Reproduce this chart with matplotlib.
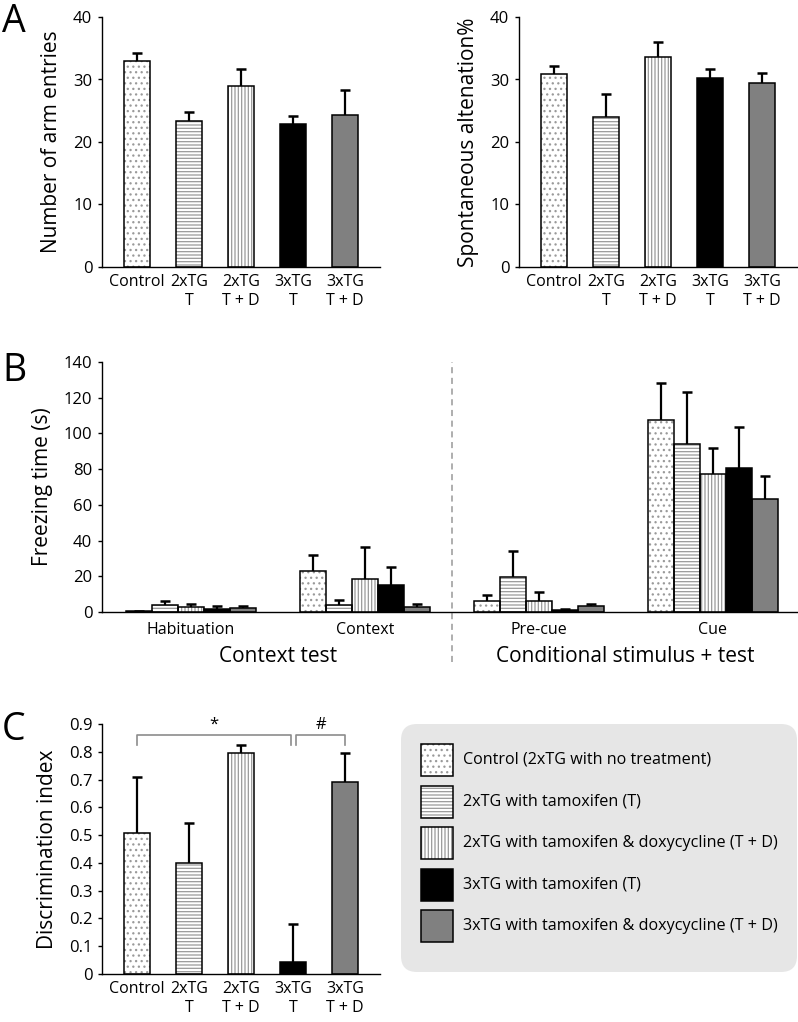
import numpy as np
import matplotlib
matplotlib.use('Agg')
import matplotlib.pyplot as plt
from matplotlib.patches import FancyBboxPatch, Rectangle
from matplotlib.ticker import FuncFormatter
import matplotlib.transforms as mtransforms

plt.rcParams['font.family'] = ['Open Sans', 'DejaVu Sans']
plt.rcParams['hatch.linewidth'] = 0.9

# groups
tick_labels = ['Control', '2xTG\nT', '2xTG\nT + D', '3xTG\nT', '3xTG\nT + D']
legend_labels = ['Control (2xTG with no treatment)',
                 '2xTG with tamoxifen (T)',
                 '2xTG with tamoxifen & doxycycline (T + D)',
                 '3xTG with tamoxifen (T)',
                 '3xTG with tamoxifen & doxycycline (T + D)']

# A: Y-maze
arm_entries = [33.0, 23.4, 29.0, 22.8, 24.3]
arm_entries_err = [1.3, 1.35, 2.6, 1.3, 4.0]
alternation = [30.9, 24.0, 33.6, 30.2, 29.4]
alternation_err = [1.3, 3.7, 2.45, 1.5, 1.6]

# B: fear conditioning, rows = phases, cols = groups
phases = ['Habituation', 'Context', 'Pre-cue', 'Cue']
freezing = [[0.3, 3.7, 2.8, 1.9, 2.3],
            [23.1, 3.7, 18.5, 15.3, 2.8],
            [6.3, 19.4, 5.9, 0.9, 3.1],
            [107.5, 94.1, 77.1, 80.4, 63.4]]
freezing_err = [[0.3, 2.2, 1.7, 1.2, 0.9],
                [9.0, 3.2, 17.7, 10.1, 1.8],
                [3.0, 14.9, 5.3, 0.9, 1.5],
                [20.7, 29.1, 14.7, 23.2, 12.5]]
test_names = ['Context test', 'Conditional stimulus + test']

# C: novel object
discrimination = [0.509, 0.401, 0.794, 0.044, 0.690]
discrimination_err = [0.199, 0.141, 0.029, 0.137, 0.104]

fills = ['white', 'white', 'white', 'black', '#808080']
hatches = ['...', '-----', '|||||', '', '']
hatch_col = '#9a9a9a'

W, H = 798, 1022
fig = plt.figure(figsize=(W / 100, H / 100), dpi=100)


def px_axes(x0, y0, x1, y1):
    return fig.add_axes([x0 / W, 1 - y1 / H, (x1 - x0) / W, (y1 - y0) / H])


def draw_bars(ax, x, vals, errs, width, idx):
    for xi, v, e, i in zip(x, vals, errs, idx):
        ax.bar(xi, v, width, color=fills[i], edgecolor=hatch_col if hatches[i] else fills[i],
               hatch=hatches[i], linewidth=0, zorder=2)
        ax.bar(xi, v, width, facecolor='none', edgecolor='black', linewidth=1.1, zorder=3)
        ax.vlines(xi, v, v + e, color='black', linewidth=1.6, zorder=4)
        ax.plot(xi, v + e, ls='none', marker='_', ms=6.5, mew=1.8, color='black', zorder=4)


def style_axes(ax):
    for s in ['top', 'right']:
        ax.spines[s].set_visible(False)
    for s in ['left', 'bottom']:
        ax.spines[s].set_linewidth(1.0)
    ax.tick_params(axis='y', direction='out', length=3, width=1, labelsize=12, pad=4)
    ax.tick_params(axis='x', length=0, labelsize=11.5, pad=5)


# ---- A ----
x = np.arange(5)
for (x0, data, err, ylab) in [(102, arm_entries, arm_entries_err, 'Number of arm entries'),
                              (519, alternation, alternation_err, 'Spontaneous altenation%')]:
    ax = px_axes(x0, 17, x0 + 278, 267)
    draw_bars(ax, x, data, err, 0.5, range(5))
    ax.set_xlim(-0.67, 4.67)
    ax.set_ylim(0, 40)
    ax.set_yticks([0, 10, 20, 30, 40])
    ax.set_xticks(x)
    ax.set_xticklabels(tick_labels, linespacing=1.25)
    ax.set_ylabel(ylab, fontsize=15, labelpad=8)
    style_axes(ax)
fig.text(2 / W, 1 - 3 / H, 'A', fontsize=27, va='top', ha='left')

# ---- B ----
axB = px_axes(102, 362, 798, 612)
gx = np.arange(len(phases))
bw = 0.149
for g in range(len(phases)):
    draw_bars(axB, gx[g] + (np.arange(5) - 2) * bw, freezing[g], freezing_err[g], bw, range(5))
axB.set_xlim(-0.51, 3.49)
axB.set_ylim(0, 140)
axB.set_yticks(np.arange(0, 141, 20))
axB.set_xticks(gx)
axB.set_xticklabels(phases)
axB.set_ylabel('Freezing time (s)', fontsize=15, labelpad=8)
style_axes(axB)
axB.tick_params(axis='x', labelsize=11.5, pad=7)
axB.axvline(1.5, ymin=-0.2, ymax=1, color='#999999', ls=(0, (4, 3)), lw=1.1, clip_on=False)
trans = mtransforms.blended_transform_factory(axB.transData, axB.transAxes)
axB.text(0.5, -0.18, test_names[0], transform=trans, ha='center', va='center', fontsize=15)
axB.text(2.5, -0.18, test_names[1], transform=trans, ha='center', va='center', fontsize=15)
fig.text(2 / W, 1 - 352 / H, 'B', fontsize=27, va='top', ha='left')

# ---- C ----
axC = px_axes(102, 724, 380, 974)
draw_bars(axC, x, discrimination, discrimination_err, 0.5, range(5))
axC.set_xlim(-0.67, 4.67)
axC.set_ylim(0, 0.9)
axC.set_yticks(np.arange(0, 0.91, 0.1))
axC.yaxis.set_major_formatter(FuncFormatter(lambda v, p: '0' if abs(v) < 1e-9 else '%.1f' % v))
axC.set_xticks(x)
axC.set_xticklabels(tick_labels, linespacing=1.25)
axC.set_ylabel('Discrimination index', fontsize=15, labelpad=8)
style_axes(axC)
# significance brackets
bc = '#8c8c8c'
for (xa, xb, sym) in [(0, 2.96, '*'), (3.06, 4.0, '#')]:
    axC.plot([xa, xa, xb, xb], [0.826, 0.862, 0.862, 0.826], color=bc, lw=1.2, clip_on=False)
    axC.text((xa + xb) / 2, 0.868, sym, ha='center', va='bottom', fontsize=12)
fig.text(2 / W, 1 - 711 / H, 'C', fontsize=27, va='top', ha='left')

# ---- legend box ----
axL = px_axes(401, 724, 797, 972)
axL.set_xlim(0, 396)
axL.set_ylim(248, 0)
axL.axis('off')
axL.add_patch(FancyBboxPatch((14, 14), 368, 220, boxstyle='round,pad=14,rounding_size=16',
                             facecolor='#e6e6e6', edgecolor='none'))
for i, lab in enumerate(legend_labels):
    yc = 36 + i * 41.5
    axL.add_patch(Rectangle((20, yc - 16), 32, 32, facecolor=fills[i],
                            edgecolor=hatch_col if hatches[i] else fills[i], hatch=hatches[i], lw=0))
    axL.add_patch(Rectangle((20, yc - 16), 32, 32, facecolor='none', edgecolor='black', lw=1.1))
    axL.text(62, yc, lab, va='center', ha='left', fontsize=11.6)

fig.savefig('out.png', dpi=100)
